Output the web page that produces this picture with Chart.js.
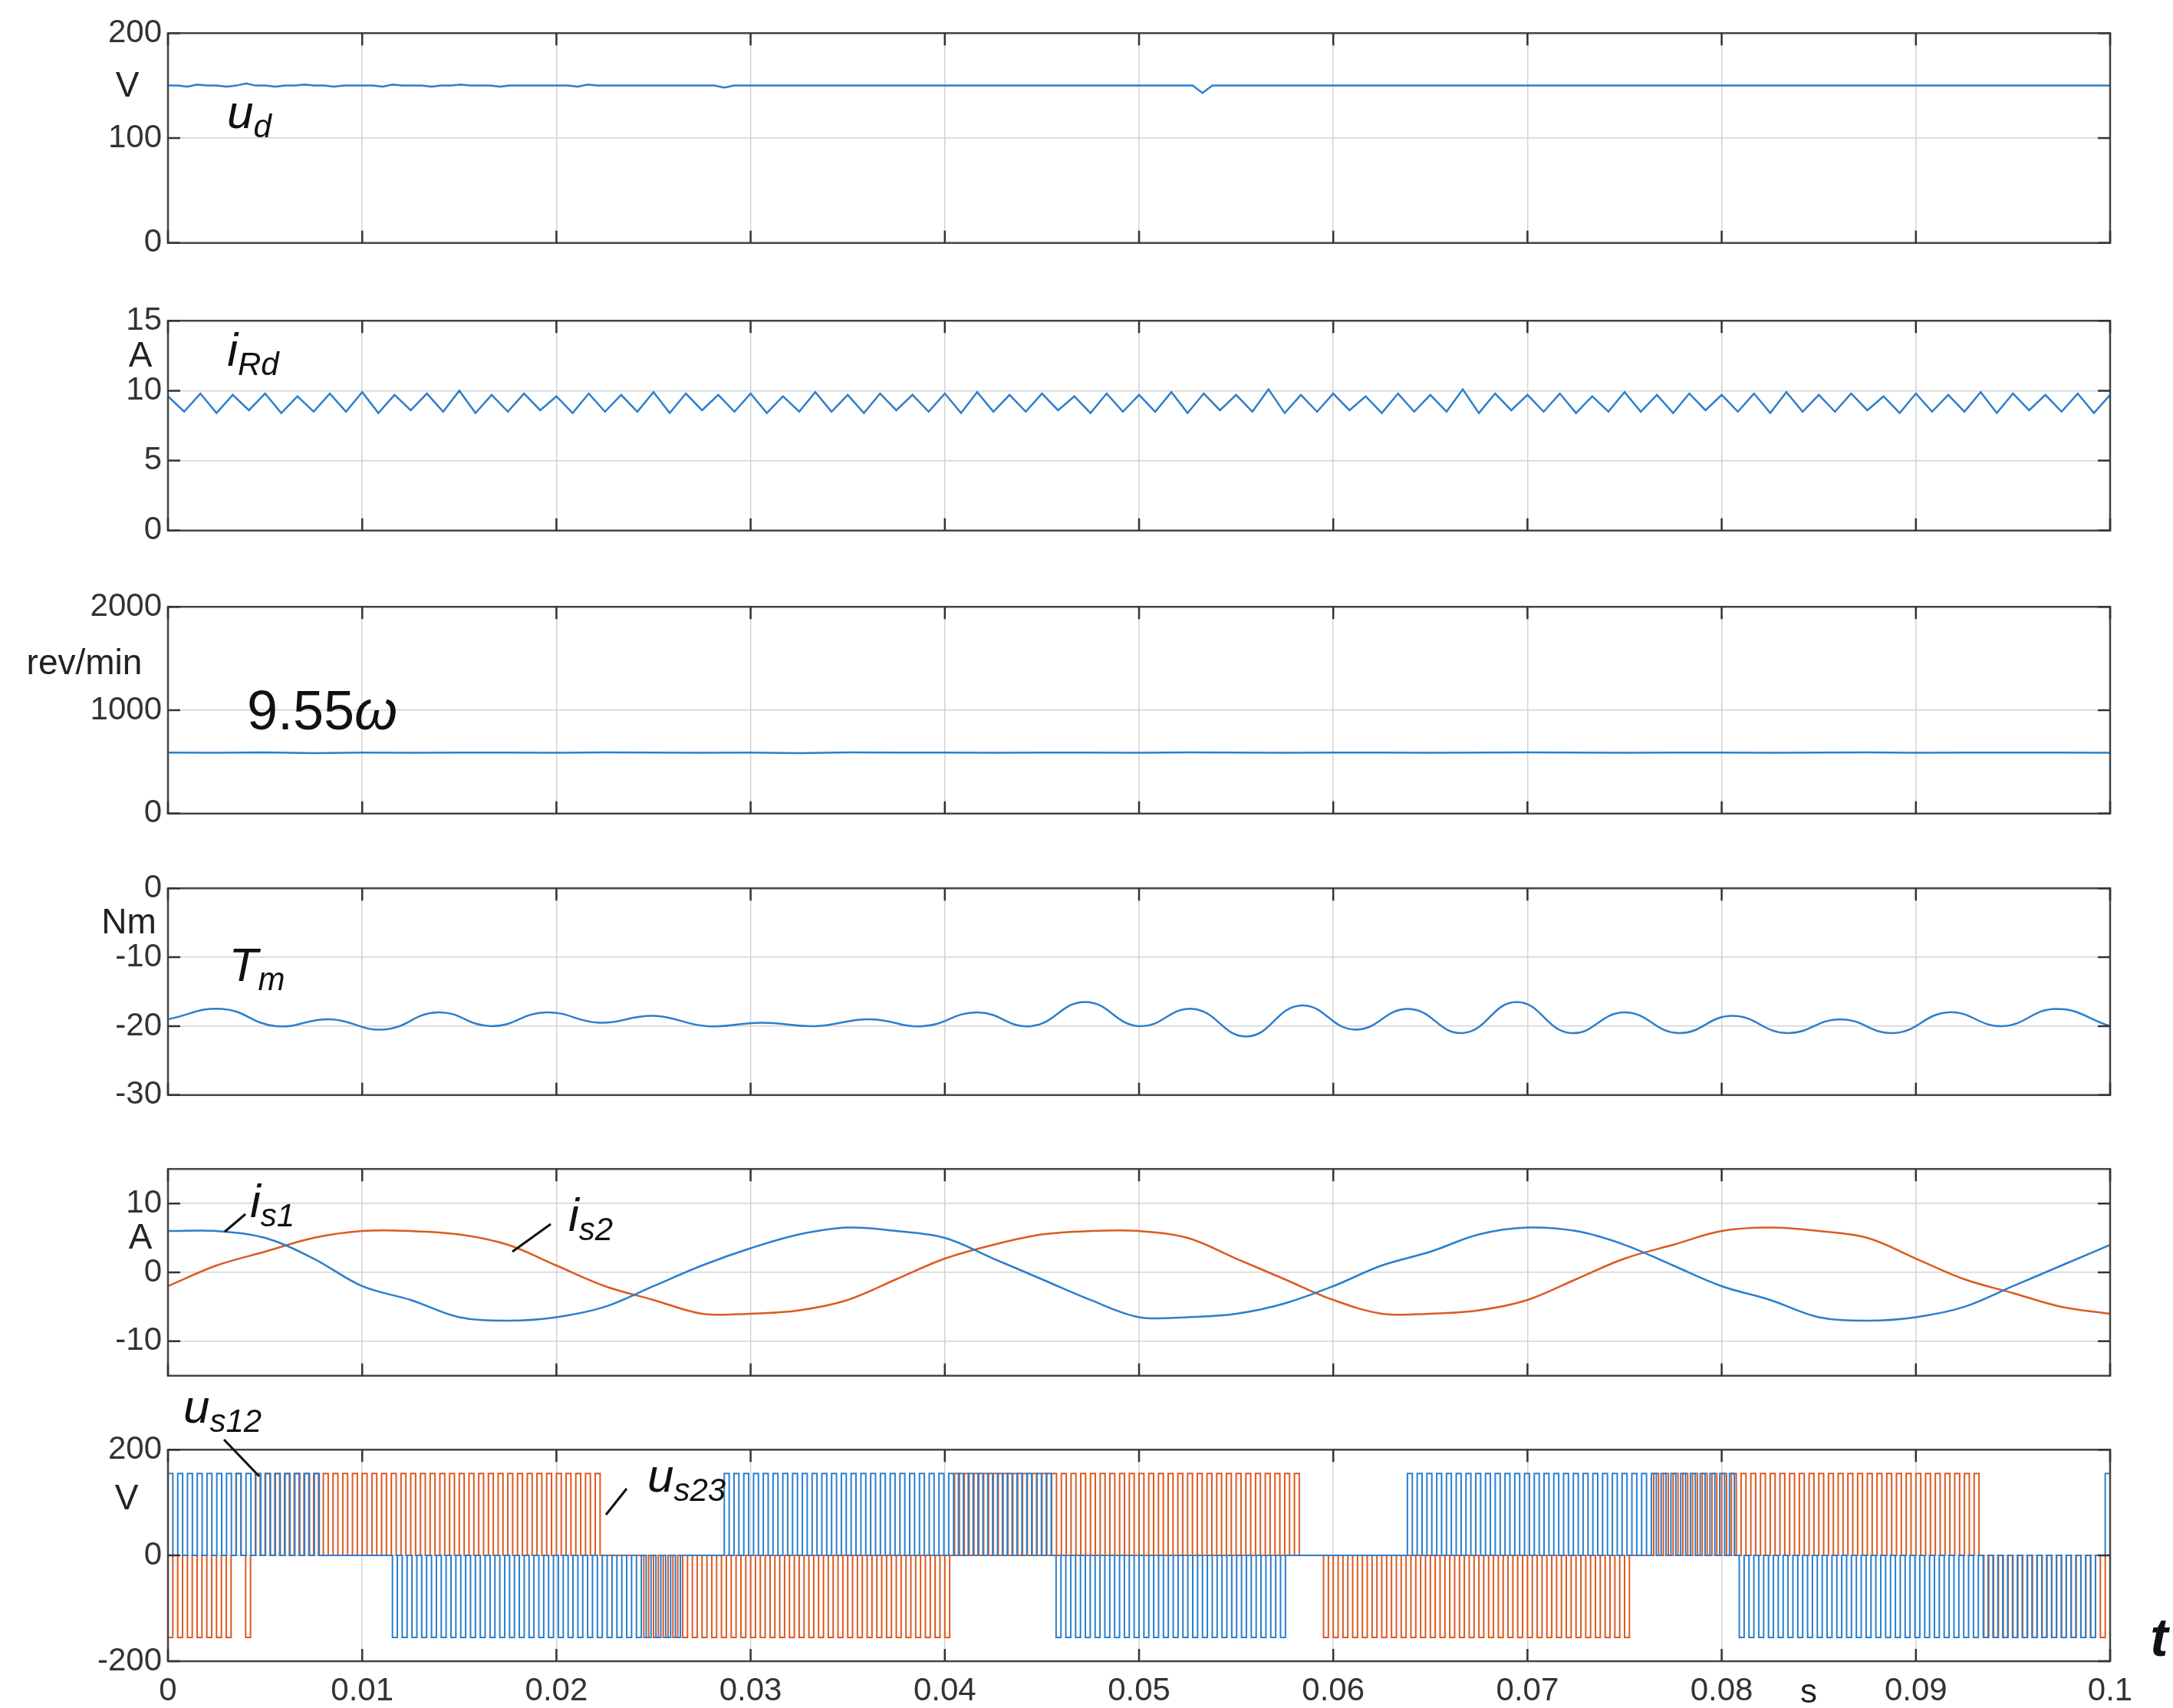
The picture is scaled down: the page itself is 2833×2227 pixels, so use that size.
<!DOCTYPE html>
<html><head><meta charset="utf-8">
<script src="https://cdn.jsdelivr.net/npm/chart.js@4.4.0/dist/chart.umd.min.js"></script>
<style>
body{margin:0;background:#fff;width:2833px;height:2227px;position:relative;overflow:hidden;font-family:"Liberation Sans",Arial,sans-serif;}
canvas{position:absolute;left:0;}
.t{position:absolute;transform:translate(-50%,-50%);color:#111;white-space:nowrap;line-height:1;}
.u{font-size:46px;color:#222;}
.lab{font-size:62px;font-style:italic;}
.lab sub{font-size:42px;vertical-align:-12px;}
svg{position:absolute;left:0;top:0;}
</style></head><body>
<script>
// ---- data ----
const T_END = 0.1;
const xTicks = [0,0.01,0.02,0.03,0.04,0.05,0.06,0.07,0.08,0.09,0.1];
const ud = [150,150,149,151,150,150,149,150,152,150,150,149,150,150,151,150,150,149,150,150,150,150,149,151,150,150,150,149,150,150,151,150,150,150,149,150,150,150,150,150,150,150,149,151,150,150,150,150,150,150,150,150,150,150,150,150,150,148,150,150,150,150,150,150,150,150,150,150,150,150,150,150,150,150,150,150,150,150,150,150,150,150,150,150,150,150,150,150,150,150,150,150,150,150,150,150,150,150,150,150,150,150,150,150,150,150,143,150,150,150,150,150,150,150,150,150,150,150,150,150,150,150,150,150,150,150,150,150,150,150,150,150,150,150,150,150,150,150,150,150,150,150,150,150,150,150,150,150,150,150,150,150,150,150,150,150,150,150,150,150,150,150,150,150,150,150,150,150,150,150,150,150,150,150,150,150,150,150,150,150,150,150,150,150,150,150,150,150,150,150,150,150,150,150,150,150,150,150,150,150];
const iRd = [9.6,8.5,9.8,8.4,9.7,8.6,9.8,8.4,9.6,8.5,9.8,8.5,9.9,8.4,9.7,8.6,9.8,8.5,10.0,8.4,9.7,8.5,9.8,8.6,9.6,8.4,9.8,8.5,9.7,8.5,9.9,8.4,9.8,8.6,9.7,8.5,9.8,8.4,9.6,8.5,9.9,8.5,9.7,8.4,9.8,8.6,9.7,8.5,9.8,8.4,9.9,8.5,9.7,8.5,9.8,8.6,9.6,8.4,9.8,8.5,9.7,8.5,9.9,8.4,9.8,8.6,9.7,8.5,10.1,8.4,9.7,8.5,9.8,8.6,9.6,8.4,9.8,8.5,9.7,8.5,10.1,8.4,9.8,8.6,9.7,8.5,9.8,8.4,9.6,8.5,9.9,8.5,9.7,8.4,9.8,8.6,9.7,8.5,9.8,8.4,9.9,8.5,9.7,8.5,9.8,8.6,9.6,8.4,9.8,8.5,9.7,8.5,9.9,8.4,9.8,8.6,9.7,8.5,9.8,8.4,9.7];
const speed = [590,588,592,585,590,589,591,590,588,592,590,589,590,585,592,590,591,588,590,590,589,592,590,588,591,590,589,590,592,590,588,591,590,589,590,592,588,590,590,591,589];
const Tm = [-19,-17.5,-20,-19,-20.5,-18,-20,-18,-19.5,-18.5,-20,-19.5,-20,-19,-20,-18,-20,-16.5,-20,-17.5,-21.5,-17,-20.5,-17.5,-21,-16.5,-21,-18,-21,-18.5,-21,-19,-21,-18,-20,-17.5,-20];
const is1 = [6,6,5,2,-2,-4,-6.5,-7,-6.5,-5,-2,1,3.5,5.5,6.5,6,5,2,-1,-4,-6.5,-6.5,-6,-4.5,-2,1,3,5.5,6.5,6,4,1,-2,-4,-6.5,-7,-6.5,-5,-2,1,4];
const is2 = [-2,1,3,5,6,6,5.5,4,1,-2,-4,-6,-6,-5.5,-4,-1,2,4,5.5,6,6,5,2,-1,-4,-6,-6,-5.5,-4,-1,2,4,6,6.5,6,5,2,-1,-3,-5,-6];
// PWM states per 0.25 ms: p=+155 V, n=-155 V, 0=0 V
const us12States = ["p0p0p0p0p0p0p0p0p0p0p0p0p0p0p0p0","00000000000000",
 "n0n0n0n0n0n0n0n0n0n0n0n0n0n0n0n0n0n0n0n0n0n0n0n0n0n0n0n0n0n0","00000000",
 "p0p0p0p0p0p0p0p0p0p0p0p0p0p0p0p0p0p0p0p0p0p0p0p0p0p0p0p0p0p0p0p0p0p0",
 "n0n0n0n0n0n0n0n0n0n0n0n0n0n0n0n0n0n0n0n0n0n0n0n0","000000000000000000000000",
 "p0p0p0p0p0p0p0p0p0p0p0p0p0p0p0p0p0p0p0p0p0p0p0p0p0p0p0p0p0p0p0p0p0p0",
 "n0n0n0n0n0n0n0n0n0n0n0n0n0n0n0n0n0n0n0n0n0n0n0n0n0n0n0n0n0n0n0n0n0n0n0n0n0","0pp"];
const us23States = ["n0n0n0n0n0n0","n0p0n0p0",
 "p0p0p0p0p0p0p0p0p0p0p0p0p0p0p0p0p0p0p0p0p0p0p0p0p0p0p0p0p0p0p0p0p0p0p0","00000000",
 "n0n0n0n0n0n0n0n0n0n0n0n0n0n0n0n0n0n0n0n0n0n0n0n0n0n0n0n0n0n0n0n0",
 "p0p0p0p0p0p0p0p0p0p0p0p0p0p0p0p0p0p0p0p0p0p0p0p0p0p0p0p0p0p0p0p0p0p0p0p0","0000",
 "n0n0n0n0n0n0n0n0n0n0n0n0n0n0n0n0n0n0n0n0n0n0n0n0n0n0n0n0n0n0n0n0","0000",
 "p0p0p0p0p0p0p0p0p0p0p0p0p0p0p0p0p0p0p0p0p0p0p0p0p0p0p0p0p0p0p0p0p0p0",
 "n0n0n0n0n0n0n0n0n0n0n0n0n0","n"];
const levelOf = {p:155, n:-155, '0':0};

// ---- helpers ----
const BLUE='#2b7fcc', ORANGE='#dc5a22';
function series(arr){return arr.map((v,i)=>({x:i*T_END/(arr.length-1),y:v}));}
function pwm(states){const s=states.join('').split('').map(c=>levelOf[c]);return series(s);}
const boxPlugin={id:'box',afterDraw(c){const a=c.chartArea,g=c.ctx;g.save();g.strokeStyle='#444';g.lineWidth=2.5;g.strokeRect(a.left,a.top,a.right-a.left,a.bottom-a.top);
 g.strokeStyle='#333';
 c.scales.x.ticks.forEach(t=>{const x=c.scales.x.getPixelForValue(t.value);g.beginPath();g.moveTo(x,a.bottom);g.lineTo(x,a.bottom-16);g.moveTo(x,a.top);g.lineTo(x,a.top+16);g.stroke();});
 c.scales.y.ticks.forEach(t=>{const y=c.scales.y.getPixelForValue(t.value);g.beginPath();g.moveTo(a.left,y);g.lineTo(a.left+16,y);g.moveTo(a.right,y);g.lineTo(a.right-16,y);g.stroke();});
 g.restore();}};

function panel(top,h,datasets,ymin,ymax,last,ylabels){
 const cv=document.createElement('canvas');const padT=30,padB=last?90:30;
 cv.width=2833;cv.height=h+padT+padB;cv.style.top=(top-padT)+'px';document.body.appendChild(cv);
 new Chart(cv,{type:'line',data:{datasets},plugins:[boxPlugin],options:{
  responsive:false,animation:false,devicePixelRatio:1,
  layout:{padding:{top:padT,bottom:last?0:padB,right:82,left:0}},
  plugins:{legend:{display:false},tooltip:{enabled:false}},
  elements:{point:{radius:0}},
  scales:{
   x:{type:'linear',min:0,max:T_END,afterBuildTicks:s=>{s.ticks=xTicks.map(v=>({value:v}));},
     afterFit:s=>{s.height=last?padB:0;s.paddingRight=0;},
     grid:{color:'#d4d4d4',lineWidth:1.5,tickLength:0,drawTicks:false},border:{display:false},
     ticks:{display:last,font:{size:42,family:'Liberation Sans'},color:'#333',padding:14,maxRotation:0,autoSkip:false,
       callback:v=>String(+v.toFixed(2))}},
   y:{min:ymin,max:ymax,afterBuildTicks:s=>{s.ticks=ylabels.map(v=>({value:v}));},
     afterFit:s=>{s.width=219;},
     grid:{color:'#d4d4d4',lineWidth:1.5,drawTicks:false},border:{display:false},
     ticks:{font:{size:42,family:'Liberation Sans'},color:'#333',padding:8,autoSkip:false,callback:v=>String(v)}}
  }}});
}
const L=(d,c,extra)=>Object.assign({data:series(d),borderColor:c,borderWidth:2.5,pointRadius:0,tension:0},extra||{});

panel(40,280,[L(ud,BLUE)],0,200,false,[0,100,200]);
panel(415,280,[L(iRd,BLUE)],0,15,false,[0,5,10,15]);
panel(788,276,[L(speed,BLUE)],0,2000,false,[0,1000,2000]);
panel(1155,276,[L(Tm,BLUE,{tension:0.45})],-30,0,false,[-30,-20,-10,0]);
panel(1521,276,[L(is1,BLUE,{tension:0.35}),L(is2,ORANGE,{tension:0.35})],-15,15,false,[-10,0,10]);
panel(1887,279,[
  {data:pwm(us12States),borderColor:BLUE,borderWidth:2,stepped:true,pointRadius:0},
  {data:pwm(us23States),borderColor:ORANGE,borderWidth:2,stepped:true,pointRadius:0}],-200,200,true,[-200,0,200]);
</script>
<div class="t u" style="left:166px;top:110px">V</div>
<div class="t lab" style="left:325px;top:150px">u<sub>d</sub></div>
<div class="t u" style="left:183px;top:462px">A</div>
<div class="t lab" style="left:330px;top:460px">i<sub>Rd</sub></div>
<div class="t u" style="left:110px;top:863px">rev/min</div>
<div class="t" style="left:420px;top:926px;font-size:72px">9.55<i>ω</i></div>
<div class="t u" style="left:168px;top:1201px">Nm</div>
<div class="t lab" style="left:335px;top:1262px">T<sub>m</sub></div>
<div class="t u" style="left:183px;top:1612px">A</div>
<div class="t lab" style="left:355px;top:1570px">i<sub>s1</sub></div>
<div class="t lab" style="left:770px;top:1588px">i<sub>s2</sub></div>
<div class="t lab" style="left:290px;top:1838px">u<sub>s12</sub></div>
<div class="t u" style="left:165px;top:1952px">V</div>
<div class="t lab" style="left:895px;top:1928px">u<sub>s23</sub></div>
<div class="t" style="left:2815px;top:2135px;font-size:70px;font-style:italic;font-weight:bold">t</div>
<div class="t u" style="left:2358px;top:2205px;font-size:44px">s</div>
<svg width="2833" height="2227"><g stroke="#111" stroke-width="3">
<line x1="320" y1="1583" x2="293" y2="1606"/>
<line x1="718" y1="1596" x2="668" y2="1632"/>
<line x1="292" y1="1877" x2="338" y2="1925"/>
<line x1="817" y1="1941" x2="790" y2="1975"/>
</g></svg>
</body></html>
